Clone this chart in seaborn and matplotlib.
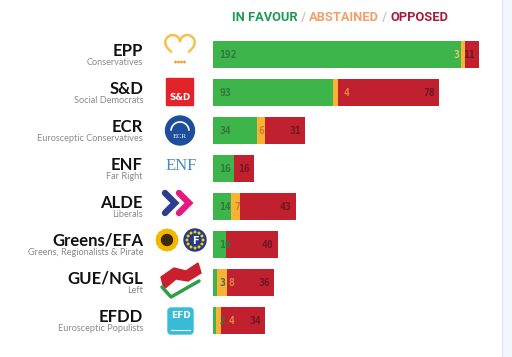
import numpy as np
import pandas as pd
import matplotlib
matplotlib.use("Agg")
import matplotlib.pyplot as plt
import seaborn as sns
from matplotlib.patches import Rectangle, Circle, FancyBboxPatch, Polygon
from matplotlib.offsetbox import TextArea, HPacker, AnnotationBbox

# --- data -----------------------------------------------------------------
parties = ["EPP", "S&D", "ECR", "ENF", "ALDE", "Greens/EFA", "GUE/NGL", "EFDD"]
subtitles = ["Conservatives", "Social Democrats", "Eurosceptic Conservatives", "Far Right",
             "Liberals", "Greens, Regionalists & Pirate", "Left", "Eurosceptic Populists"]
in_favour = [192, 93, 34, 16, 14, 10, 3, 2]
abstained = [3, 4, 6, 0, 7, 0, 8, 4]
opposed = [11, 78, 31, 16, 43, 40, 36, 34]

GREEN, ORANGE, RED = "#3db54a", "#f9b234", "#c1202e"

df = pd.DataFrame({"party": parties, "fav": in_favour, "abs": abstained, "opp": opposed})
df["fav_abs"] = df["fav"] + df["abs"]
df["total"] = df["fav_abs"] + df["opp"]

sns.set_theme(style="white")
plt.rcParams["font.family"] = ["Lato", "DejaVu Sans"]

W, H = 512, 357
fig = plt.figure(figsize=(W / 100, H / 100), dpi=100)
fig.patch.set_facecolor("white")

# overlay in pixel coordinates for labels / logos
ov = fig.add_axes([0, 0, 1, 1])
ov.set_xlim(0, W)
ov.set_ylim(H, 0)
ov.axis("off")

# right-hand page strip
ov.add_patch(Rectangle((502, 0), 10, H, color="#f3f6fa", zorder=0))
ov.plot([502, 502], [0, H], color="#dfe3ea", lw=0.8, zorder=1)

# --- stacked bars ------------------------------------------------------------
XMAX = 230
ax_w = 297
ax = fig.add_axes([213 / W, (H - 339.5) / H, ax_w / W, 304 / H])
ax.patch.set_alpha(0)
bar_kw = dict(y="party", orient="h", width=0.71, saturation=1, linewidth=0, ax=ax, order=parties)
sns.barplot(data=df, x="total", color=RED, **bar_kw)
sns.barplot(data=df, x="fav_abs", color=ORANGE, **bar_kw)
sns.barplot(data=df, x="fav", color=GREEN, **bar_kw)
ax.set_xlim(0, XMAX)
ax.set_ylim(7.5, -0.5)
ax.set_axis_off()

# --- value labels -------------------------------------------------------------
scale = ax_w / XMAX          # px per unit
cw = 5.85 / scale            # char width in data units
num_kw = dict(fontsize=7, fontweight="bold", family="DejaVu Sans Mono", va="center")
for i, row in df.iterrows():
    g, a, o, t = row["fav"], row["abs"], row["opp"], row["total"]
    g_left = 6 / scale
    g_end = g_left + len(str(g)) * cw
    ax.text(g_left, i, str(g), color="#33763f", ha="left", **num_kw)
    r_right = t - 4 / scale
    r_left = r_right - len(str(o)) * cw
    ax.text(r_right, i, str(o), color="#6e1822", ha="right", **num_kw)
    if a > 0:
        # narrow orange segment: label goes just after it, otherwise inside
        start = g + a + 5 / scale if a < 5 else g + 1 / scale
        o_left = max(start, g_end + 4 / scale)
        o_end = o_left + len(str(a)) * cw
        if o_end + 2 / scale > r_left:
            ax.text(g - 2 / scale, i, str(a), color="#eec070", ha="right", **num_kw)
        else:
            col = "#e0893c" if o_left > g + a else "#c97f32"
            ax.text(o_left, i, str(a), color=col, ha="left", **num_kw)

# --- party names --------------------------------------------------------------
for k, (name, sub) in enumerate(zip(parties, subtitles)):
    yc = 54.5 + 38 * k
    ov.text(143, yc + 1, name, ha="right", va="baseline", fontsize=12,
            fontweight="bold", color="#111111")
    ov.text(143, yc + 10.5, sub, ha="right", va="baseline", fontsize=6.6, color="#8a8a8a")

# --- title --------------------------------------------------------------------
tkw = dict(fontsize=9.3, fontweight="bold", family="Roboto")
pieces = [("IN FAVOUR", "#1f9a55"), (" / ", "#c8c8c8"), ("ABSTAINED", "#f0a068"),
          (" / ", "#c8c8c8"), ("OPPOSED", "#a8193a")]
boxes = [TextArea(s, textprops=dict(color=c, **tkw)) for s, c in pieces]
pack = HPacker(children=boxes, align="baseline", pad=0, sep=0)
ov.add_artist(AnnotationBbox(pack, (340, 17.5), frameon=False, box_alignment=(0.5, 0.5)))

# --- logos (rough sketches) ---------------------------------------------------
# EPP heart, open at the bottom
tt = np.linspace(-0.68 * np.pi, 0.68 * np.pi, 200)
hx = 16 * np.sin(tt) ** 3
hy = 13 * np.cos(tt) - 5 * np.cos(2 * tt) - 2 * np.cos(3 * tt) - np.cos(4 * tt)
ov.plot(180 + hx * 0.92, 46 - hy * 0.92, color="#f4c24a", lw=1.8, solid_capstyle="round")
for dx in (-4.5, -1.5, 1.5, 4.5):
    ov.add_patch(Circle((180 + dx, 62), 0.7, color="#f0a030"))

# S&D
ov.add_patch(Rectangle((166, 78), 27, 27, color="#e2232a"))
ov.text(179.5, 97, "S&D", ha="center", va="center", color="white", fontsize=6.3,
        fontweight="bold", family="DejaVu Sans")

# ECR
ov.add_patch(Circle((180, 130.5), 14.5, color="#1c4e9c"))
ov.plot(180 + 9 * np.cos(np.linspace(0.1, np.pi - 0.1, 40)),
        131 - 9 * np.sin(np.linspace(0.1, np.pi - 0.1, 40)), color="white", lw=1.2)
ov.text(180, 136, "ECR", ha="center", va="center", color="white", fontsize=5.2,
        family="Liberation Serif")

# ENF
ov.text(181, 165.5, "ENF", ha="center", va="center", color="#4a88c8", fontsize=12,
        family="Liberation Serif")

# ALDE chevrons
ov.plot([165, 175, 165], [193, 203, 213], color="#2b3f8f", lw=4.6, solid_joinstyle="miter")
ov.plot([179, 189, 179], [193, 203, 213], color="#e5187e", lw=4.6, solid_joinstyle="miter")

# Greens / EFA
for a_ in np.linspace(0, 2 * np.pi, 16, endpoint=False):
    ov.add_patch(Circle((167 + 8 * np.cos(a_), 240 + 8 * np.sin(a_)), 2.8, color="#f5b800"))
ov.add_patch(Circle((167, 240), 5.5, color="#3b2a12"))
ov.add_patch(Circle((195, 240), 11, color="#23388a"))
for a_ in np.linspace(0, 2 * np.pi, 12, endpoint=False):
    ov.add_patch(Circle((195 + 8 * np.cos(a_), 240 + 8 * np.sin(a_)), 0.8, color="#f5d000"))
ov.text(195, 240.5, "F", ha="center", va="center", color="white", fontsize=7, fontweight="bold",
        family="DejaVu Sans")

# GUE/NGL
ov.add_patch(Polygon([(161, 277), (174, 268), (186, 271), (198, 263), (201, 273),
                      (188, 281), (176, 279), (164, 289)], color="#c8202c"))
ov.plot([162, 171, 199], [287, 297, 281], color="#2f9e44", lw=2.5, solid_capstyle="round")

# EFDD
ov.add_patch(FancyBboxPatch((168, 308), 25, 26, boxstyle="round,pad=0,rounding_size=3",
                            color="#36bcd4"))
ov.text(180.5, 315, "EFD", ha="center", va="center", color="white", fontsize=6.5,
        fontweight="bold", family="DejaVu Sans")
ov.plot([171, 190], [330, 330], color="white", lw=0.8)

fig.savefig("out.png", dpi=100, facecolor="white")
